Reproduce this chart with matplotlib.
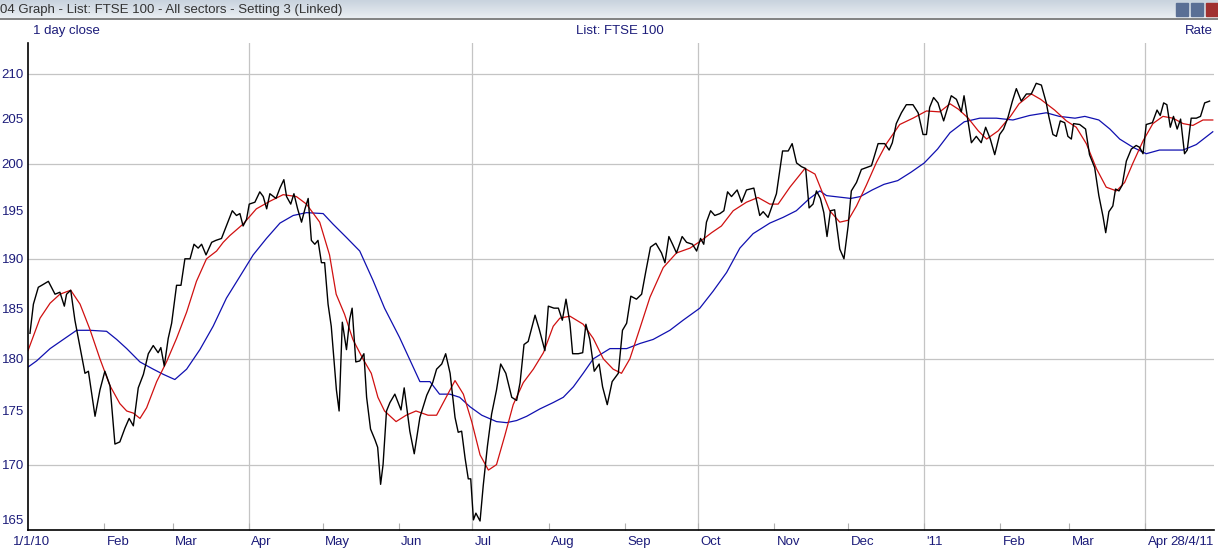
import matplotlib
matplotlib.use("Agg")
import matplotlib.pyplot as plt
from matplotlib.patches import Rectangle
from matplotlib.colors import LinearSegmentedColormap
import numpy as np

# x = days since 1 Jan 2010, y = index level (log axis)
close_day = [0.8, 2.2, 4.2, 5.6, 8.3, 11, 13, 14.8, 15.7, 17.4, 19.1, 21.2, 23.2, 24.6, 27.3, 29.3, 31.3, 33.4,
             35.4, 37.4, 39.5, 41.2, 42.9, 44.9, 47, 49, 51, 53, 54.1, 55.5, 57.1, 58.5, 60.5, 62.3, 63.9, 66,
             67.6, 69.3, 70.7, 72.5, 74.8, 76.5, 78.8, 80.8, 83.2, 84.9, 86.3, 87.6, 89, 90.1, 92.4, 94.4, 95.8,
             97.2, 98.5, 101, 102.6, 104.2, 105.3, 107, 108.3, 109.8, 111.4, 112.8, 114.1, 115.4, 116.8, 118.1,
             119.5, 120.8, 122.2, 123.5, 125.6, 126.7, 128, 129.7, 131, 132, 133.5, 135.1, 136.8, 137.9, 139.5,
             141.3, 142.4, 143.6, 144.6, 146, 147.4, 149.4, 151.9, 153.2, 155.5, 157.3, 159.6,
             162.4, 164.8, 166.4, 168.5, 170.1, 171.9, 173.9, 175.2, 176.6, 178, 179.3, 180.3, 181.4, 182.4,
             184.1, 185.4, 187.1, 188.8, 190.8, 192.5, 194.6, 197, 199, 200.4, 202, 203.7, 206.5, 208.2, 210.5,
             211.9, 214.2, 216, 217.6, 219.1, 220.7, 221.8, 224.1, 225.9, 227.2, 228.8, 230.6, 232.6, 234,
             235.9, 237.9, 240.4, 242.1, 243.8, 245.5, 247.8, 249.9, 251.6, 253.5, 255.7, 258, 259.4, 261,
             262.5, 264.1, 266.4, 268.2, 270.6, 272.3, 273.9, 275.2, 276.3, 278, 279.7, 281.8, 283.4, 284.9,
             286.5, 288.8, 290.6, 292.6, 295.6, 298, 299.4, 301.4, 304.8, 307.3, 309.6, 311.2, 313, 315,
             316.7, 318.1, 319.7, 321.1, 322.7, 324.1, 325.4, 326.8, 328.5, 330.6, 332.3, 334, 335.3, 337.4,
             339.4, 341.4, 343.5, 346.2, 348.9, 350.7, 352, 353.6, 355.7, 357.7, 360.4, 362.5, 364.5, 365.9,
             367.2, 368.8, 370.6, 372.9, 374.7, 376, 378.1, 380.1, 381.2, 382.8, 384.2, 386.2, 388.2, 390,
             391.9, 393.7, 395.7, 397.3, 399.1, 400.9, 402.5, 404.5, 406.6, 408.6, 410.6, 412.7, 414.7, 415.8,
             417.4, 418.8, 420.4, 422.2, 423.5, 424.9, 425.8, 428.3, 430.7, 432.3, 434.4, 436.1, 437.8, 438.9,
             440.2, 441.8, 442.9, 444.3, 445.6, 447.3, 449.3, 451.3, 452.7, 454.1, 455.4, 457.9, 459.8, 461.1,
             462.5, 463.8, 465.2, 466.5, 468, 469.4, 471, 472.1, 473.7, 475.8, 477.5, 479.2, 481.2]
close_val = [182.5, 185.4, 187.1, 187.3, 187.7, 186.4, 186.6, 185.2, 186.4, 186.8, 183.8, 181.1, 178.6, 178.8,
             174.5, 177, 178.8, 177.4, 171.9, 172.1, 173.4, 174.3, 173.6, 177.2, 178.5, 180.5, 181.3, 180.6,
             181.1, 179.3, 182, 183.5, 187.3, 187.3, 190, 190, 191.5, 191.1, 191.5, 190.4, 191.7, 191.9, 192.1,
             193.4, 195, 194.5, 194.7, 193.4, 194.1, 195.7, 195.9, 197, 196.5, 195.2, 196.8, 196.3, 197.4, 198.3,
             196.5, 195.7, 196.8, 195.2, 193.8, 195.2, 196.3, 191.9, 191.5, 191.9, 189.6, 189.6, 185.4, 183.2,
             177, 175, 183.6, 180.9, 183.9, 185, 179.7, 179.8, 180.5, 176.3, 173.3, 172.3, 171.6, 168.2, 170,
             175, 175.8, 176.6, 175.1, 177.2, 173.1, 171, 174.4,
             176.5, 177.7, 179, 179.5, 180.5, 178.6, 174.4, 173, 173.1, 170.6, 168.7, 168.7, 165, 165.6, 164.9,
             168.1, 171.7, 174.7, 177, 179.5, 178.6, 176.3, 176, 177.7, 181.4, 181.7, 184.3, 182.9, 180.8,
             185.2, 185, 185, 183.8, 185.9, 183.5, 180.5, 180.5, 180.6, 183.4, 181.9, 178.8, 179.5, 177.3,
             175.6, 177.8, 178.6, 182.8, 183.5, 186.2, 185.9, 186.4, 188.7, 191.2, 191.6, 190.6, 189.6, 192.3,
             191.5, 190.6, 192.3, 191.7, 191.5, 190.8, 192.1, 191.5, 193.8, 195, 194.5, 194.7, 195, 197, 196.5,
             197.2, 195.9, 197.2, 197.4, 194.5, 194.9, 194.3, 196.8, 201.4, 201.4, 202.2, 200.1, 199.7,
             199.5, 195.3, 195.7, 197.1, 196.3, 194.8, 192.3, 195, 195.1, 191, 190, 193.4, 197.1, 198,
             199.4, 199.6, 199.8, 202.2, 202.2, 201.5, 202.3, 204.4, 205.6, 206.5, 206.5, 205.6, 203.2, 203.2,
             206.2, 207.3, 206.7, 204.7, 206.3, 207.5, 207.1, 205.7, 207.5, 204.7, 202.3, 203, 202.3, 204,
             202.7, 201, 203.2, 203.8, 205.1, 206.9, 208.3, 206.9, 207.7, 207.7, 208.9, 208.7, 206.7, 205.1,
             203.2, 203, 204.7, 204.5, 203, 202.7, 204.4, 204.3, 203.8, 201, 199.6, 196.6, 194.4, 192.7,
             194.9, 195.5, 197.3, 197.1, 197.7, 200.3, 201.6, 202, 201.8, 201.1, 204.3, 204.5, 205.9, 205.3,
             206.7, 206.5, 204, 205.2, 203.8, 204.9, 201.1, 201.5, 205, 205, 205.2, 206.7, 206.9]

fast_day = [0, 4.9, 9, 13, 17.4, 21.2, 25.2, 29.3, 33.4, 37.4, 40.2, 42.9, 45.6, 48.3, 52.4, 56.4, 60.5, 64.6,
            68.6, 72.7, 76.8, 79.5, 82.2, 87.6, 93, 98.5, 103.9, 109.3, 113.4, 118.8, 122.8, 125.5, 128.9,
            132.3, 136.4, 139.8, 142.5, 145.2, 149.9, 154, 158,
            162.9, 166.4, 173.9, 177.3, 180.7, 184.1, 187.5, 190.8, 194.2, 197.6, 201.7, 205.8, 209.9, 213.9,
            216.6, 220.7, 226.1, 230.2, 234.3, 238.3, 241.7, 245.1, 249.2, 253.3, 258.7, 264.1, 269.6, 274.3,
            278.4, 282.4, 287.2, 292.6, 297.3, 302.1, 305.5, 310.3, 316.4, 320.5,
            326.5, 330.6, 334, 337.4, 341.4, 345.6, 349.6, 355, 360.4, 365.9, 371.3, 375.5,
            378.9, 382.9, 387, 390.4, 395.1, 400.1, 403.6, 408.6, 412.4, 418.1, 422.9, 426.9, 431, 435.1,
            439.1, 443.3, 446.6, 450, 454.1, 458.1, 462.2, 466.3, 470.4, 474.4, 478.5, 482.5]
fast_val = [180.8, 184, 185.5, 186.4, 186.8, 185.4, 182.9, 180, 177.4, 175.7, 175, 174.8, 174.3, 175.3, 177.8,
            179.7, 182, 184.6, 187.7, 190, 190.8, 191.7, 192.4, 193.6, 195.2, 196, 196.7, 196.5, 195.7, 193.8,
            190.4, 186.4, 184.4, 181.9, 180, 178.6, 176.3, 175, 174, 174.6, 175,
            174.6, 174.6, 177.9, 176.6, 174, 170.9, 169.5, 170, 172.7, 175.6, 177.7, 179, 180.6, 183.2,
            184, 184.2, 183.4, 182, 180, 179, 178.6, 180, 183, 186.1, 189.1, 190.6, 191.1, 191.9, 192.7,
            193.4, 195, 195.9, 196.4, 195.7, 195.7, 197.5, 199.5, 198.9,
            195, 193.8, 194, 195.5, 197.7, 200.2, 202.2, 204.3, 205, 205.8, 205.7, 206.6,
            206, 205, 203.6, 202.7, 203.6, 205.2, 206.6, 207.7, 207.1, 205.9, 204.7, 204, 202.2, 199.5,
            197.5, 197.1, 198, 200.1, 202.5, 204.4, 205.2, 205, 204.4, 204.2, 204.8, 204.8]

slow_day = [0, 3.5, 9, 14.4, 19.8, 25.2, 32, 36.1, 40.2, 45.6, 51, 55.1, 59.8, 64.6, 70, 75.4, 80.8, 86.3, 91.7,
            97.1, 102.6, 108, 113.4, 120.2, 124.2, 129.7, 135.1, 140.5, 145.2, 151.3, 159.6,
            163.7, 167.6, 171.8, 175.8, 180, 184.8, 190.8, 194.9, 199, 203.1, 208.5, 213.9, 218, 222.1, 226.1,
            230.2, 237, 243.8, 249.2, 254.6, 261.4, 266.8, 273.6, 279, 284.5, 289.9, 295.3, 302.1, 307.5,
            312.9, 318.3, 322.5,
            325.2, 335.1, 339, 343.8, 348.6, 354.2, 359.6, 365, 370.4, 375.5, 381.3, 387.6, 394.4, 401.1,
            407.9, 414.7, 420, 426.4, 430.4, 436.1, 440.6, 444.6, 450, 455.4, 460.8, 466.3, 470.4, 475.8,
            482.5]
slow_val = [179.2, 179.8, 181, 181.9, 182.8, 182.8, 182.7, 181.9, 181, 179.7, 179, 178.5, 178, 179, 180.9,
            183.2, 186, 188.2, 190.4, 192.1, 193.7, 194.5, 194.8, 194.7, 193.6, 192.2, 190.8, 187.8, 185,
            182.1, 177.8,
            177.8, 176.6, 176.6, 176.3, 175.4, 174.6, 174, 173.9, 174.1, 174.5, 175.2, 175.8, 176.3, 177.3,
            178.6, 180, 181, 181, 181.5, 181.9, 182.8, 183.8, 185, 186.7, 188.6, 191.1, 192.6, 193.7, 194.3,
            195, 196.3, 197.1,
            196.6, 196.3, 196.5, 197.2, 197.8, 198.2, 199.1, 200.1, 201.6, 203.4, 204.6, 205, 205, 204.8,
            205.3, 205.6, 205.2, 205, 205.2, 204.8, 203.8, 202.7, 201.8, 201.1, 201.5, 201.5, 201.5, 202.1,
            203.5]

month_day = [31, 59, 90, 120, 151, 181, 212, 243, 273, 304, 334, 365, 396, 424, 455]
month_lab = ["Feb", "Mar", "Apr", "May", "Jun", "Jul", "Aug", "Sep", "Oct", "Nov", "Dec", "'11",
             "Feb", "Mar", "Apr"]
grid_day = [90, 181, 273, 365, 455]
y_ticks = [165, 170, 175, 180, 185, 190, 195, 200, 205, 210]
y_grid = [170, 180, 190, 200, 210]

navy = "#1c1c7a"
plt.rcParams['font.family'] = ['Liberation Sans', 'DejaVu Sans']

fig = plt.figure(figsize=(12.18, 5.55), dpi=100)
fig.patch.set_facecolor("white")

# window title bar
bar = fig.add_axes([0, 1 - 20/555, 1, 20/555])
cm = LinearSegmentedColormap.from_list("tb", ["#c9d3de", "#edf1f5"])
bar.imshow(np.linspace(0, 1, 20).reshape(-1, 1), aspect="auto", cmap=cm, extent=[0, 1, 0, 1])
bar.set_xlim(0, 1); bar.set_ylim(0, 1)
bar.axis("off")
bar.axhline(0.03, color="#707070", lw=1.2)
bar.text(0.0, 0.5, "04 Graph - List: FTSE 100 - All sectors - Setting 3 (Linked)", fontsize=9.5,
         color="#333333", va="center", ha="left")
for i, c in enumerate(["#5a6f95", "#5a6f95", "#a03030"]):
    bar.add_patch(Rectangle((1176/1218 + i*15/1218, 0.18), 12/1218, 0.65, color=c))

ax = fig.add_axes([28/1218, 25/555, 1186/1218, 487/555])
ax.plot(slow_day, slow_val, color="#1010b0", lw=0.9)
ax.plot(fast_day, fast_val, color="#d01010", lw=0.9)
ax.plot(close_day, close_val, color="black", lw=1.0)

ax.set_yscale("log")
ax.set_ylim(164.1, 213.5)
ax.set_xlim(0, 483)
ax.minorticks_off()
ax.set_yticks(y_ticks)
ax.set_yticklabels([str(v) for v in y_ticks], color=navy, fontsize=9.5)
ax.tick_params(axis="y", length=0, pad=3)
for v in y_grid:
    ax.axhline(v, color="#c4c4c4", lw=0.9, zorder=0)
for d in grid_day:
    ax.axvline(d, color="#c4c4c4", lw=0.9, zorder=0)

ax.set_xticks(month_day)
ax.set_xticklabels([])
ax.tick_params(axis="x", direction="in", length=5, color="#b0b0b0")
for d, lab in zip(month_day, month_lab):
    ax.text(d + 1, -0.012, lab, transform=ax.get_xaxis_transform(), ha="left", va="top",
            color=navy, fontsize=9.5)
ax.text(-15/2.456, -0.012, "1/1/10", transform=ax.get_xaxis_transform(), ha="left", va="top",
        color=navy, fontsize=9.5)
ax.text(1.0, -0.012, "28/4/11", transform=ax.transAxes, ha="right", va="top",
        color=navy, fontsize=9.5)

for s in ["top", "right"]:
    ax.spines[s].set_visible(False)
ax.spines["left"].set_linewidth(1.2)
ax.spines["bottom"].set_linewidth(1.2)

fig.text(33/1218, 1 - 31/555, "1 day close", color=navy, fontsize=9.5, va="center", ha="left")
fig.text(620/1218, 1 - 31/555, "List: FTSE 100", color=navy, fontsize=9.5, va="center", ha="center")
fig.text(1213/1218, 1 - 31/555, "Rate", color=navy, fontsize=9.5, va="center", ha="right")

fig.savefig("out.png", dpi=100)
